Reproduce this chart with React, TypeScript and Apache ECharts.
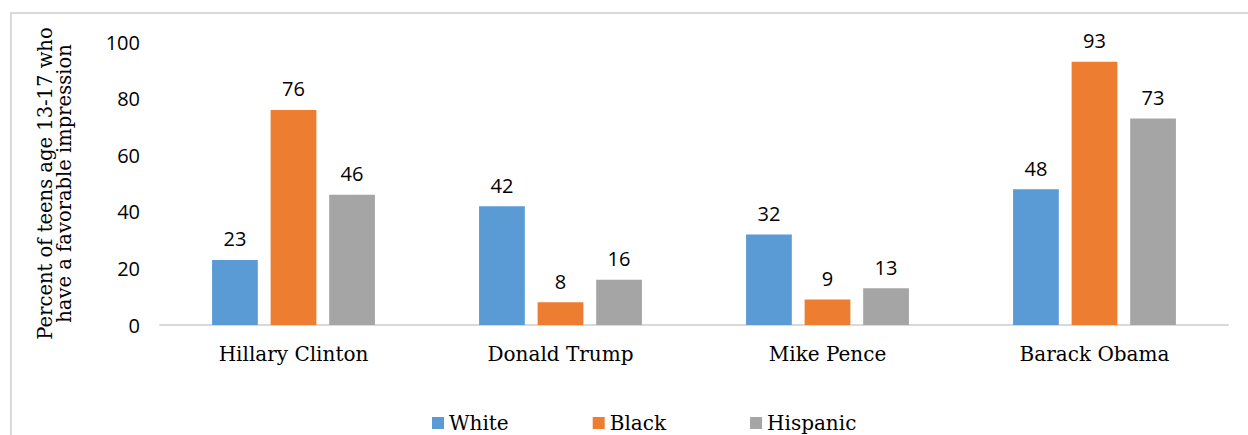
import React, { useEffect, useRef } from "react";
import * as echarts from "echarts";

const categories = ["Hillary Clinton", "Donald Trump", "Mike Pence", "Barack Obama"];
const white = [23, 42, 32, 48];
const black = [76, 8, 9, 93];
const hispanic = [46, 16, 13, 73];
const yTicks = { min: 0, max: 100, interval: 20 };

const SERIF = "'DejaVu Serif', serif";
const SANS = "'Open Sans', 'Liberation Sans', sans-serif";

export default function App() {
  const ref = useRef<HTMLDivElement>(null);
  useEffect(() => {
    if (!ref.current) return;
    const chart = echarts.init(ref.current, undefined, { renderer: "svg" });
    const label = { show: true, position: "top", distance: 11, color: "#000", fontFamily: SANS, fontSize: 20 };
    const mk = (name: string, data: number[], color: string) => ({
      name,
      type: "bar",
      data,
      barGap: "28%",
      barCategoryGap: "39%",
      itemStyle: { color },
      label,
    });
    chart.setOption({
      animation: false,
      backgroundColor: "#fff",
      graphic: [
        {
          type: "rect",
          shape: { x: 11, y: 13, width: 1400, height: 600 },
          style: { fill: "none", stroke: "#d9d9d9", lineWidth: 2 },
          silent: true,
        },
      ],
      grid: { left: 160, right: 20, top: 42, bottom: 110 },
      legend: {
        left: 427,
        top: 408,
        itemWidth: 12,
        itemHeight: 12,
        itemGap: 84,
        icon: "rect",
        textStyle: { fontFamily: SERIF, fontSize: 20, color: "#000" },
        data: ["White", "Black", "Hispanic"],
      },
      xAxis: {
        type: "category",
        data: categories,
        axisLine: { lineStyle: { color: "#d9d9d9", width: 2 } },
        axisTick: { show: false },
        axisLabel: { fontFamily: SERIF, fontSize: 20, color: "#000", margin: 19 },
      },
      yAxis: {
        type: "value",
        min: yTicks.min,
        max: yTicks.max,
        interval: yTicks.interval,
        name: "Percent of teens age 13-17 who\nhave a favorable impression",
        nameLocation: "middle",
        nameRotate: 90,
        nameGap: 86,
        nameTextStyle: { fontFamily: SERIF, fontSize: 19.5, color: "#000", lineHeight: 19 },
        axisLine: { show: false },
        axisTick: { show: false },
        splitLine: { show: false },
        axisLabel: { fontFamily: SANS, fontSize: 20, color: "#000", margin: 20 },
      },
      series: [
        mk("White", white, "#5b9bd5"),
        mk("Black", black, "#ed7d31"),
        mk("Hispanic", hispanic, "#a5a5a5"),
      ],
    });
    return () => chart.dispose();
  }, []);
  return (
    <div
      ref={ref}
      style={{ position: "fixed", left: 0, top: 0, width: 1248, height: 435, background: "#fff" }}
    />
  );
}
